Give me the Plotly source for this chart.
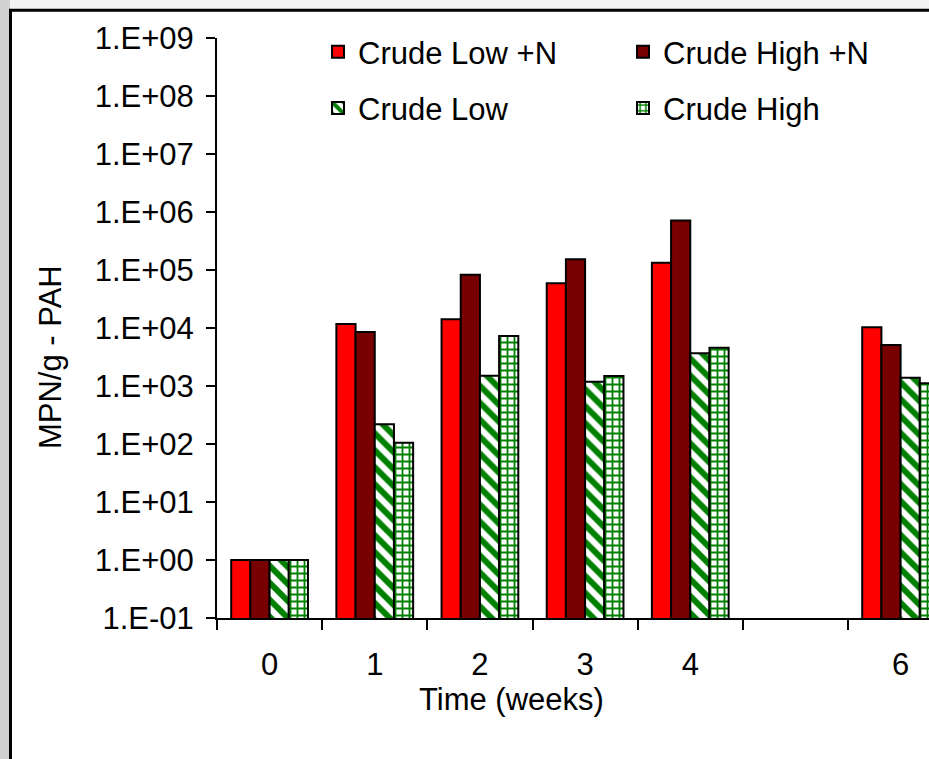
import plotly.graph_objects as go

# Sampling times (weeks); week 5 has no sample
weeks = [0, 1, 2, 3, 4, 6]
week_labels = ["0", "1", "2", "3", "4", "6"]

# MPN/g of PAH degraders per treatment
crude_low_n = [1.0, 11700, 14100, 59000, 134000, 10300]
crude_high_n = [1.0, 8530, 83200, 153000, 711000, 5090]
crude_low = [1.0, 220, 1500, 1180, 3660, 1390]
crude_high = [1.0, 105, 7280, 1480, 4570, 1110]

y_tick_vals = [1e-1, 1e0, 1e1, 1e2, 1e3, 1e4, 1e5, 1e6, 1e7, 1e8, 1e9]
y_tick_text = ["1.E-01", "1.E+00", "1.E+01", "1.E+02", "1.E+03", "1.E+04",
               "1.E+05", "1.E+06", "1.E+07", "1.E+08", "1.E+09"]

FONT = "Liberation Sans, Arial, sans-serif"
FS = 31
GREEN = "#008000"
OUTLINE = dict(color="black", width=2)

fig = go.Figure()
fig.add_bar(x=weeks, y=crude_low_n, name="Crude Low +N", legend="legend",
            marker=dict(color="#ff0000", line=OUTLINE))
fig.add_bar(x=weeks, y=crude_high_n, name="Crude High +N", legend="legend",
            marker=dict(color="#780000", line=OUTLINE))
fig.add_bar(x=weeks, y=crude_low, name="Crude Low", legend="legend2",
            marker=dict(color="white", line=OUTLINE,
                        pattern=dict(shape="\\", fgcolor=GREEN, bgcolor="white",
                                     fgopacity=1, size=12, solidity=0.5)))
fig.add_bar(x=weeks, y=crude_high, name="Crude High", legend="legend2",
            marker=dict(color="white", line=OUTLINE,
                        pattern=dict(shape="+", fgcolor=GREEN, bgcolor="white",
                                     fgopacity=1, size=7, solidity=0.45)))

plot_top, plot_bottom, plot_left, plot_w = 38.3, 617.7, 217, 712
plot_h = plot_bottom - plot_top


def px_x(p):
    return (p - plot_left) / plot_w


def px_y(p):
    return (plot_bottom - p) / plot_h


legend_common = dict(orientation="h", xanchor="left", yanchor="middle",
                     bgcolor="rgba(0,0,0,0)", borderwidth=0,
                     entrywidth=260, entrywidthmode="pixels",
                     font=dict(family=FONT, size=FS, color="black"))

fig.update_layout(
    width=929, height=759,
    margin=dict(l=plot_left, r=0, t=plot_top, b=759 - plot_bottom),
    paper_bgcolor="#f3f3f3",
    plot_bgcolor="rgba(0,0,0,0)",
    barmode="group", bargap=0.27, bargroupgap=0,
    font=dict(family=FONT, size=FS, color="black"),
    showlegend=True,
    legend=dict(x=px_x(318), y=px_y(52.5), **legend_common),
    legend2=dict(x=px_x(318), y=px_y(108.5), **legend_common),
    xaxis=dict(
        range=[-0.5, -0.5 + plot_w / 105.17],
        tickmode="array", tickvals=weeks, ticktext=week_labels,
        ticks="", ticklabelstandoff=18,
        showline=True, linecolor="black", linewidth=2,
        showgrid=False, zeroline=False,
        minor=dict(tickmode="linear", tick0=-0.5, dtick=1, ticks="outside",
                   ticklen=10, tickwidth=2, tickcolor="black", showgrid=False),
        tickfont=dict(family=FONT, size=FS, color="black"),
    ),
    yaxis=dict(
        type="log", range=[-1, 9],
        tickmode="array", tickvals=y_tick_vals, ticktext=y_tick_text,
        ticks="outside", ticklen=9, tickwidth=2, tickcolor="black",
        ticklabelstandoff=6,
        showline=True, linecolor="black", linewidth=2,
        showgrid=False, zeroline=False,
        tickfont=dict(family=FONT, size=FS, color="black"),
    ),
    shapes=[
        # grey strip on the left of the frame
        dict(type="rect", xref="paper", yref="paper", layer="below",
             x0=px_x(-5), x1=px_x(10), y0=px_y(-5), y1=px_y(800),
             fillcolor="#d2d2d2", line=dict(width=0)),
        # white framed panel
        dict(type="rect", xref="paper", yref="paper", layer="below",
             x0=px_x(10.5), x1=px_x(1000), y0=px_y(10.5), y1=px_y(820),
             fillcolor="white", line=dict(color="black", width=3)),
    ],
    annotations=[
        dict(text="MPN/g - PAH", xref="paper", yref="paper",
             x=px_x(50), y=px_y(357), textangle=-90, showarrow=False,
             xanchor="center", yanchor="middle",
             font=dict(family=FONT, size=FS, color="black")),
        dict(text="Time (weeks)", xref="paper", yref="paper",
             x=px_x(511), y=px_y(699), showarrow=False,
             xanchor="center", yanchor="middle",
             font=dict(family=FONT, size=FS, color="black")),
    ],
)

fig.write_html("out.html")
